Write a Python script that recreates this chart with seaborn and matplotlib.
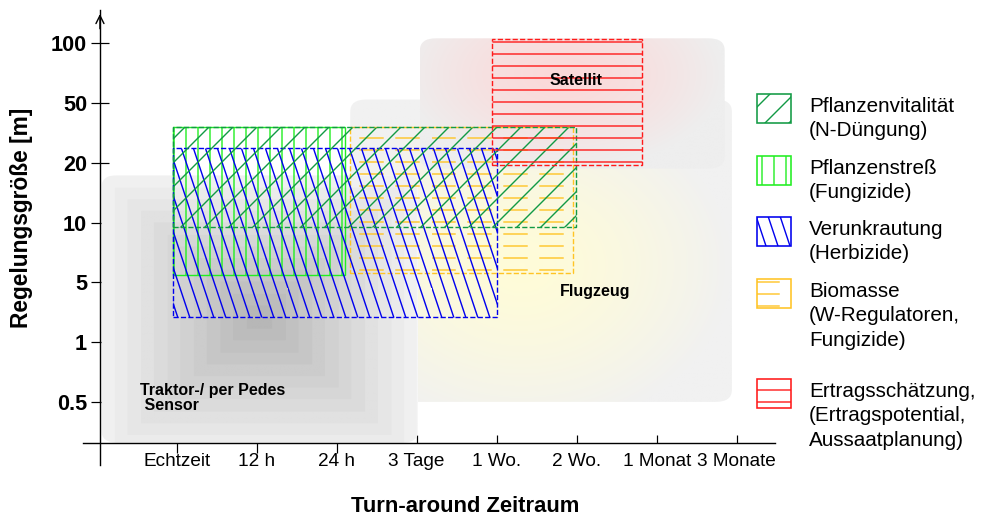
import warnings
import numpy as np
import matplotlib.pyplot as plt
import matplotlib.hatch as mhatch
from matplotlib.path import Path
from matplotlib.patches import FancyBboxPatch, Rectangle
from matplotlib.colors import LinearSegmentedColormap
import seaborn as sns

warnings.filterwarnings('ignore')

# Achsen: beide Achsen sind gleichmäßig geteilte Kategorien
zeitraum = ['Echtzeit', '12 h', '24 h', '3 Tage', '1 Wo.', '2 Wo.', '1 Monat', '3 Monate']
regelgroesse = ['0.5', '1', '5', '10', '20', '50', '100']

# Plattformen (Hintergrundflächen), in Tick-Einheiten
plattformen = ['Flugzeug', 'Traktor-/ per Pedes\n Sensor', 'Satellit']
platt_x0 = [2.17, -0.94, 3.04]
platt_x1 = [6.94, 3.02, 6.85]
platt_y0 = [0.01, -0.67, 3.90]
platt_y1 = [5.05, 3.79, 6.07]
platt_text_x = [5.23, 0.45, 4.99]
platt_text_y = [1.85, 0.075, 5.375]

# Anwendungen (schraffierte Felder), in Tick-Einheiten
anwendungen = ['Pflanzenvitalität\n(N-Düngung)',
               'Pflanzenstreß\n(Fungizide)',
               'Verunkrautung\n(Herbizide)',
               'Biomasse\n(W-Regulatoren,\nFungizide)',
               'Ertragsschätzung,\n(Ertragspotential,\nAussaatplanung)']
anw_x0 = [-0.05, -0.05, -0.05, 2.17, 3.94]
anw_x1 = [4.99, 2.10, 4.00, 4.95, 5.82]
anw_y0 = [2.93, 2.125, 1.42, 2.15, 3.96]
anw_y1 = [4.59, 4.59, 4.25, 4.59, 6.06]

# Stil
farben = ['#129a45', '#22ee22', '#0000ee', '#ffc425', '#ff1a1a']
schraffur = ['//', '||', 'n', 'b', '--']
kanten = ['--', '-', '--', '--', '--']
platt_innen = ['#fffcd8', '#b7b7b7', '#fbd9d9']
platt_aussen = ['#f1f1f1', '#f6f6f6', '#eeeeee']
platt_mitte = [(0.45, 0.45), (0.5, 0.47), (0.47, 0.72)]
platt_art = ['rund', 'eckig', 'rund']


class SteileSchraffur(mhatch.HatchPatternBase):
    # steile "\"-Linien wie in der Vorlage
    def __init__(self, hatch, density):
        self.num_lines = hatch.count('n') * 16
        self.num_vertices = self.num_lines * 2

    def set_vertices_and_codes(self, vertices, codes):
        start = np.arange(self.num_lines) / 12
        vertices[0::2, 0] = start
        vertices[0::2, 1] = 0.0
        vertices[1::2, 0] = start - 1 / 3
        vertices[1::2, 1] = 1.0
        codes[0::2] = Path.MOVETO
        codes[1::2] = Path.LINETO


class StrichSchraffur(mhatch.HatchPatternBase):
    # unterbrochene waagrechte Linien
    def __init__(self, hatch, density):
        self.num_lines = hatch.count('b') * 12
        self.num_vertices = self.num_lines * 4 * 2

    def set_vertices_and_codes(self, vertices, codes):
        zeilen = (np.arange(self.num_lines) + 0.5) / self.num_lines
        spalten = np.arange(4) / 4
        yy, xx = np.meshgrid(zeilen, spalten, indexing='ij')
        vertices[0::2, 0] = xx.ravel()
        vertices[0::2, 1] = yy.ravel()
        vertices[1::2, 0] = xx.ravel() + 0.16
        vertices[1::2, 1] = yy.ravel()
        codes[0::2] = Path.MOVETO
        codes[1::2] = Path.LINETO


mhatch._hatch_types += [SteileSchraffur, StrichSchraffur]

sns.set_style('white')
plt.rcParams['font.family'] = ['Liberation Sans', 'DejaVu Sans']
plt.rcParams['hatch.linewidth'] = 0.7
plt.rcParams['text.color'] = 'black'
plt.rcParams['axes.labelcolor'] = 'black'


def verlauf_feld(ax, x0, x1, y0, y1, innen, aussen, mitte, art, z):
    box = FancyBboxPatch((x0, y0), x1 - x0, y1 - y0,
                         boxstyle='round,pad=0,rounding_size=0.2',
                         fc='none', ec='none', zorder=z)
    ax.add_patch(box)
    gy, gx = np.mgrid[1:0:300j, 0:1:300j]
    dx = np.abs(gx - mitte[0]) / max(mitte[0], 1 - mitte[0])
    dy = np.abs(gy - mitte[1]) / max(mitte[1], 1 - mitte[1])
    if art == 'eckig':
        d = np.floor(np.maximum(dx, dy) * 12) / 12
    else:
        d = np.clip(np.hypot(dx, dy), 0, 1) ** 1.4
    cmap = LinearSegmentedColormap.from_list('verlauf', [innen, aussen])
    im = ax.imshow(d, extent=(x0, x1, y0, y1), cmap=cmap, vmin=0, vmax=1,
                   aspect='auto', interpolation='bilinear', origin='upper', zorder=z)
    im.set_clip_path(box)


fig = plt.figure(figsize=(990 / 144, 516 / 144), dpi=144)
ax = fig.add_axes([83 / 990, 51 / 516, 692 / 990, 455 / 516])

for i in range(len(plattformen)):
    verlauf_feld(ax, platt_x0[i], platt_x1[i], platt_y0[i], platt_y1[i],
                 platt_innen[i], platt_aussen[i], platt_mitte[i], platt_art[i], 1 + i)

for i in [3, 1, 2, 0, 4]:
    ax.bar(anw_x0[i], anw_y1[i] - anw_y0[i], width=anw_x1[i] - anw_x0[i],
           bottom=anw_y0[i], align='edge', fill=False, edgecolor=farben[i],
           hatch=schraffur[i], linestyle=kanten[i], linewidth=0.7, zorder=5)

for i in range(len(plattformen)):
    ax.text(platt_text_x[i], platt_text_y[i], plattformen[i], ha='center', va='center',
            multialignment='left', fontsize=8, fontweight='bold', zorder=6, linespacing=1.0)

# Achsen
ax.set_xlim(-1.171, 7.479)
ax.set_ylim(-1.042, 6.542)
sns.despine(ax=ax)
ax.spines['left'].set_position(('data', -0.959))
ax.spines['bottom'].set_position(('data', -0.68))
for s in ['left', 'bottom']:
    ax.spines[s].set_color('black')
    ax.spines[s].set_linewidth(0.7)
ax.annotate('', xy=(-0.959, 1.0), xycoords=('data', 'axes fraction'),
            xytext=(-0.959, 0.95), textcoords=('data', 'axes fraction'),
            arrowprops=dict(arrowstyle='->', lw=0.7, color='black'))

pos = list(range(len(zeitraum)))
ax.set_xticks(pos[:3], zeitraum[:3])
ax.set_xticks(pos[3:], zeitraum[3:], minor=True)
ax.tick_params(axis='x', which='major', bottom=True, direction='out', length=5,
               width=0.6, pad=0, labelsize=9.5, colors='black')
ax.tick_params(axis='x', which='minor', bottom=True, direction='in', length=4,
               width=0.6, pad=5, labelsize=9.5, colors='black')
ax.set_yticks(range(len(regelgroesse)), regelgroesse)
ax.tick_params(axis='y', left=True, direction='inout', length=9, width=0.6, pad=2,
               labelsize=10.8, colors='black')
for t in ax.get_yticklabels():
    t.set_fontweight('bold')

ax.set_xlabel('Turn-around Zeitraum', fontsize=11, fontweight='bold')
ax.xaxis.set_label_coords(0.552, -0.068)
ax.set_ylabel('Regelungsgröße [m]', fontsize=11.4, fontweight='bold')
ax.yaxis.set_label_coords(-0.072, 0.543)

# Legende rechts
legende_oben = [94, 156, 217, 279, 379]
for i, text in enumerate(anwendungen):
    top = legende_oben[i]
    fig.add_artist(Rectangle((757 / 990, 1 - (top + 29) / 516), 34 / 990, 29 / 516,
                             transform=fig.transFigure, fill=False, edgecolor=farben[i],
                             hatch=schraffur[i], linewidth=0.8))
    fig.text(809 / 990, 1 - (top + 3) / 516, text, ha='left', va='top',
             fontsize=10.3, linespacing=1.35)

fig.savefig('out.png', dpi=144)
